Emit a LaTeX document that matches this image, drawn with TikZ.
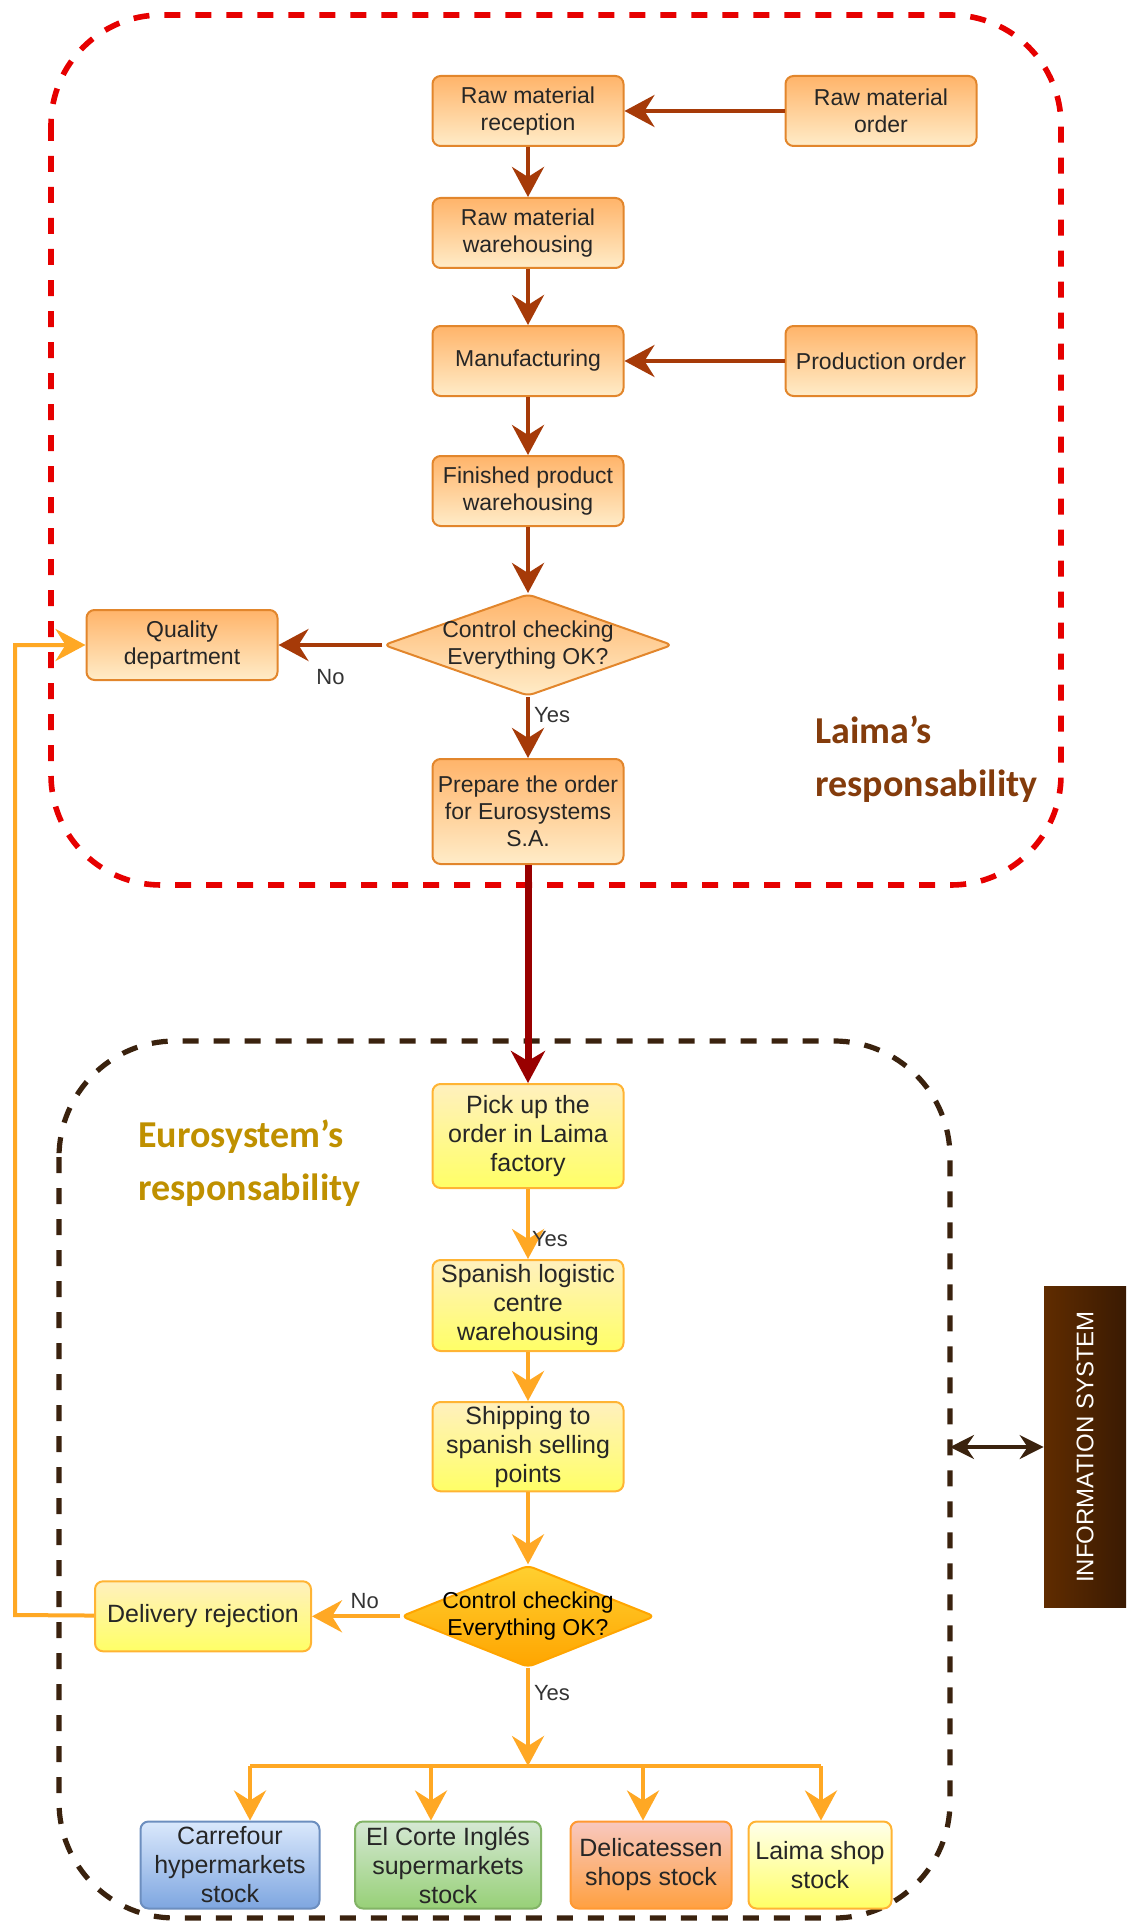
\documentclass[tikz,border=0pt]{standalone}
\usepackage{fontspec}
\setmainfont{Liberation Sans}
\newfontfamily\respfont{Carlito}
\usepackage{graphicx}
\usepackage{xcolor}
\usepackage{tikz}
\usetikzlibrary{arrows.meta,positioning,shapes.geometric}

\definecolor{laimaborder}{RGB}{226,134,44}
\definecolor{laimatop}{RGB}{255,180,106}
\definecolor{laimabot}{RGB}{255,236,200}
\definecolor{laimaarrow}{RGB}{166,58,8}
\definecolor{laimared}{RGB}{230,0,0}
\definecolor{laimatext}{RGB}{132,60,12}
\definecolor{bigred}{RGB}{153,0,0}
\definecolor{eurotop}{RGB}{255,240,190}
\definecolor{eurobot}{RGB}{255,255,102}
\definecolor{euroborder}{RGB}{255,180,52}
\definecolor{euroarrow}{RGB}{255,168,36}
\definecolor{eurobrown}{RGB}{58,34,14}
\definecolor{eurotext}{RGB}{191,144,0}
\definecolor{checktop}{RGB}{255,208,48}
\definecolor{checkbot}{RGB}{255,165,0}
\definecolor{infoleft}{RGB}{96,44,0}
\definecolor{inforight}{RGB}{58,26,2}

\begin{document}
\begin{tikzpicture}[
  x=0.5pt, y=-0.5pt,
  font=\fontsize{11.5}{13.5}\selectfont,
  box/.style={rectangle, rounded corners=4pt, draw=laimaborder, line width=1pt,
              top color=laimatop, bottom color=laimabot, text=black!85,
              align=center, minimum width=95.5pt, minimum height=35pt, inner sep=2pt},
  ybox/.style={box, draw=euroborder, top color=eurotop, bottom color=eurobot,
               font=\fontsize{12.5}{14.5}\selectfont},
  stock/.style={box, minimum height=43.5pt, font=\fontsize{12.5}{14.5}\selectfont},
  check/.style={diamond, rounded corners=3pt, draw=laimaborder, line width=1pt,
                top color=laimatop, bottom color=laimabot, text=black!85, align=center,
                inner sep=0pt, minimum width=144.5pt, minimum height=51pt},
  lbl/.style={font=\fontsize{11}{13}\selectfont, text=black!80, inner sep=1pt},
  resp/.style={font=\respfont\bfseries\fontsize{19}{26.5}\selectfont, align=left, inner sep=0pt},
  infobox/.style={rectangle, left color=infoleft, right color=inforight, text=white,
                  minimum width=41pt, minimum height=160.5pt, inner sep=0pt,
                  font=\fontsize{12}{14}\selectfont},
  arrow/.style={-{Stealth[length=15pt, width=16pt, inset=5pt]}, line width=2.2pt, draw=laimaarrow},
  oarrow/.style={arrow, draw=euroarrow, line width=2pt},
  oline/.style={line width=2pt, draw=euroarrow},
  bigarrow/.style={-{Stealth[length=16pt, width=17pt, inset=5pt]}, line width=3.5pt, draw=bigred},
  infoarrow/.style={{Stealth[length=12pt, width=12pt, inset=4pt]}-{Stealth[length=12pt, width=12pt, inset=4pt]},
                    line width=1.6pt, draw=eurobrown},
  reddash/.style={draw=laimared, line width=2.8pt, dash pattern=on 8pt off 7.5pt, rounded corners=55pt},
  browndash/.style={draw=eurobrown, line width=2.6pt, dash pattern=on 8pt off 7.5pt, rounded corners=58pt}
]
\useasboundingbox (0,0) rectangle (1126,1921);

% responsibility frames
\draw[reddash] (51,15) rectangle (1061,885);
\draw[browndash] (59,1041) rectangle (950,1918);

% Laima
\node[box] (rmrec) at (528,111) {Raw material\\reception};
\node[box, right=80pt of rmrec] (rmorder) {Raw material\\order};
\node[box, below=25pt of rmrec] (rmware) {Raw material\\warehousing};
\node[box, below=28pt of rmware] (manuf) {Manufacturing};
\node[box, right=80pt of manuf] (prodorder) {Production order};
\node[box, below=29pt of manuf] (finware) {Finished product\\warehousing};
\node[check, below=33pt of finware] (check1) {\makebox[0pt]{Control checking}\\\makebox[0pt]{Everything OK?}};
\node[box, left=52pt of check1] (quality) {Quality\\department};
\node[box, below=30.5pt of check1, minimum height=52.5pt] (prep) {Prepare the order\\for Eurosystems\\S.A.};
\node[resp, text=laimatext, anchor=west] (laimaresp) at (815,759) {Laima’s\\responsability};

% Eurosystem
\node[ybox, below=109pt of prep, minimum height=52pt] (pick) {Pick up the\\order in Laima\\factory};
\node[ybox, below=35pt of pick, minimum height=45.5pt] (spanish) {Spanish logistic\\centre\\warehousing};
\node[ybox, below=24.5pt of spanish, minimum height=44.5pt] (ship) {Shipping to\\spanish selling\\points};
\node[check, draw=checkbot, top color=checktop, bottom color=checkbot, text=black,
      minimum width=127pt, below=36pt of ship] (check2) {\makebox[0pt]{Control checking}\\\makebox[0pt]{Everything OK?}};
\node[ybox, left=44pt of check2, minimum width=108pt] (reject) {Delivery rejection};
\node[resp, text=eurotext, anchor=west] (euroresp) at (138,1163) {Eurosystem’s\\responsability};

\node[stock, draw={rgb,255:red,108;green,142;blue,191}, top color={rgb,255:red,218;green,232;blue,252},
      bottom color={rgb,255:red,126;green,166;blue,224}, minimum width=89.5pt] (carrefour) at (230,1865) {Carrefour\\hypermarkets\\stock};
\node[stock, draw={rgb,255:red,130;green,179;blue,102}, top color={rgb,255:red,213;green,232;blue,212},
      bottom color={rgb,255:red,151;green,208;blue,119}, minimum width=93pt] (corte) at (448,1865) {El Corte Inglés\\supermarkets\\stock};
\node[stock, draw={rgb,255:red,255;green,153;blue,51}, top color={rgb,255:red,248;green,200;blue,192},
      bottom color={rgb,255:red,255;green,160;blue,64}, minimum width=80.5pt] (deli) at (651,1865) {Delicatessen\\shops stock};
\node[stock, draw=euroborder, top color={rgb,255:red,255;green,255;blue,235}, bottom color=eurobot,
      minimum width=71.5pt] (laimashop) at (820,1865) {Laima shop\\stock};

\node[infobox] (info) at (1085,1447) {\rotatebox{90}{INFORMATION SYSTEM}};

\coordinate (bus) at (250,1766);
\coordinate (busend) at (821,1766);
\coordinate (corteend) at (431,1766);
\coordinate (deliend) at (643,1766);
\coordinate (loop) at (15,1615);
\coordinate (euroedge) at (950,1447);

\draw[arrow] (rmorder) -- (rmrec);
\draw[arrow] (rmrec) -- (rmware);
\draw[arrow] (rmware) -- (manuf);
\draw[arrow] (prodorder) -- (manuf);
\draw[arrow] (manuf) -- (finware);
\draw[arrow] (finware) -- (check1);
\draw[arrow] (check1) -- node[lbl, below=10pt] {No} (quality);
\draw[arrow] (check1) -- node[lbl, right=1pt, pos=0.3] {Yes} (prep);
\draw[bigarrow] (prep) -- (pick);
\draw[oarrow] (pick) -- node[lbl, right=0pt, pos=0.72] {Yes} (spanish);
\draw[oarrow] (spanish) -- (ship);
\draw[oarrow] (ship) -- (check2);
\draw[oarrow] (check2) -- node[lbl, above=2pt, pos=0.4] {No} (reject);
\draw[oarrow] (check2) -- node[lbl, right=1pt, pos=0.25] {Yes} (check2 |- bus);
\draw[oline] (bus) -- (busend);
\draw[oarrow] (bus) -- (bus |- carrefour.north);
\draw[oarrow] (corteend) -- (corteend |- corte.north);
\draw[oarrow] (deliend) -- (deliend |- deli.north);
\draw[oarrow] (busend) -- (busend |- laimashop.north);
\draw[oarrow] (reject) -- (loop) |- (quality);
\draw[infoarrow] (euroedge) -- (info);
\end{tikzpicture}
\end{document}
